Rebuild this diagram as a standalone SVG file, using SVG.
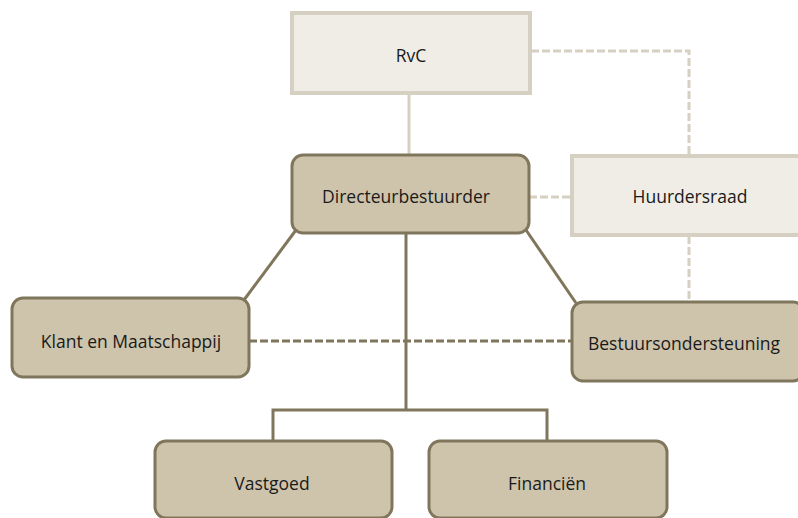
<svg xmlns="http://www.w3.org/2000/svg" width="798" height="518" viewBox="0 0 798 518">
<style>
.dark{fill:#cec4ac;stroke:#7f765c;stroke-width:3}
.light{fill:#f0ede6;stroke:#d6d0c2;stroke-width:4}
.t{font-family:"Open Sans","Noto Sans",sans-serif;font-size:17.5px;fill:#1a1a1a;text-anchor:middle;dominant-baseline:central}
.ls{stroke:#d6d0c2;stroke-width:3;fill:none}
.lsd{stroke:#d6d0c2;stroke-width:3;fill:none;stroke-dasharray:8 3}
.ds{stroke:#7f765c;stroke-width:3;fill:none}
.dsd{stroke:#7f765c;stroke-width:3;fill:none;stroke-dasharray:8 3}
</style>
<rect width="798" height="518" fill="#fff"/>
<g id="connectors">
<line class="ls" x1="409" y1="93" x2="409" y2="155"/>
<polyline class="lsd" points="531,51 689,51 689,154"/>
<line class="lsd" x1="689" y1="236" x2="689" y2="300"/>
<line class="lsd" x1="529" y1="197" x2="571" y2="197"/>
<line class="dsd" x1="249" y1="341" x2="572" y2="341"/>
<line class="ds" x1="296" y1="230" x2="244" y2="300"/>
<line class="ds" x1="526" y1="230" x2="576" y2="303"/>
<line class="ds" x1="406" y1="233" x2="406" y2="410"/>
<polyline class="ds" points="273,441 273,410 547,410 547,441"/>
</g>
<g id="rvc"><rect class="light" x="292" y="13" width="238" height="80"/><text class="t" x="411" y="55">RvC</text></g>
<g id="directeurbestuurder"><rect class="dark" x="292" y="155" width="237" height="78" rx="11"/><text class="t" x="406" y="196">Directeurbestuurder</text></g>
<g id="huurdersraad"><rect class="light" x="572" y="156" width="232" height="79"/><text class="t" x="690" y="196">Huurdersraad</text></g>
<g id="klant"><rect class="dark" x="12" y="298" width="237" height="79" rx="11"/><text class="t" x="131" y="341">Klant en Maatschappij</text></g>
<g id="bestuursondersteuning"><rect class="dark" x="572" y="302" width="232" height="79" rx="11"/><text class="t" x="684" y="343">Bestuursondersteuning</text></g>
<g id="vastgoed"><rect class="dark" x="155" y="441" width="237" height="77" rx="11"/><text class="t" x="272" y="483">Vastgoed</text></g>
<g id="financien"><rect class="dark" x="429" y="441" width="238" height="77" rx="11"/><text class="t" x="547" y="483">Financiën</text></g>
</svg>
